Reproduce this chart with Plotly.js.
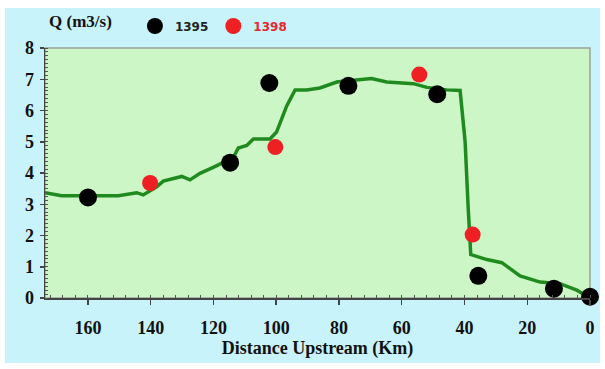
<!DOCTYPE html>
<html>
<head>
<meta charset="utf-8">
<script src="https://cdn.plot.ly/plotly-3.0.1.min.js"></script>
<style>
  html, body { margin: 0; padding: 0; background: #ffffff; }
  #frame { position: absolute; left: 5px; top: 8px; width: 595px; height: 355px; background: #c9f3fb; }
  #chart { position: absolute; left: 0; top: 0; width: 605px; height: 369px; }
</style>
</head>
<body>
<div id="frame"></div>
<div id="chart"></div>
<script>
// Discharge profile along the river (distance upstream in km, Q in m3/s)
const profileKm = [173.7, 168.4, 150.3, 144.5, 142.4, 138.1, 136.0, 130.1, 127.5, 124.3, 120.1,
  113.7, 112.1, 109.4, 107.3, 102.0, 99.9, 96.7, 94.0, 90.3, 86.1, 80.7, 75.4, 69.6, 64.8,
  56.3, 52.0, 45.7, 41.4, 39.8, 38.8, 38.0, 32.9, 28.1, 22.3, 15.9, 9.6, 4.2, 0];
const profileQ = [3.37, 3.27, 3.27, 3.37, 3.30, 3.56, 3.74, 3.89, 3.78, 3.99, 4.18,
  4.49, 4.80, 4.88, 5.09, 5.09, 5.31, 6.14, 6.66, 6.66, 6.72, 6.91, 6.97, 7.02, 6.91,
  6.86, 6.74, 6.66, 6.64, 5.00, 2.83, 1.39, 1.23, 1.13, 0.71, 0.51, 0.46, 0.25, 0.0];

// Measured discharge, 1395
const km1395 = [160, 114.7, 102.2, 77.0, 48.7, 35.6, 11.5, 0];
const q1395 = [3.22, 4.33, 6.88, 6.79, 6.52, 0.71, 0.30, 0.04];

// Measured discharge, 1398
const km1398 = [140.2, 100.3, 54.4, 37.4];
const q1398 = [3.68, 4.83, 7.15, 2.03];

const xTicks = [160, 140, 120, 100, 80, 60, 40, 20, 0];
const yTicks = [0, 1, 2, 3, 4, 5, 6, 7, 8];

const serif = 'Liberation Serif, Times New Roman, serif';

const traces = [
  {
    x: profileKm, y: profileQ, type: 'scatter', mode: 'lines',
    line: { color: '#1f8b1f', width: 3.5 },
    showlegend: false, hoverinfo: 'skip'
  },
  {
    x: km1395, y: q1395, type: 'scatter', mode: 'markers', name: '1395',
    marker: { color: '#000000', size: 18 }, cliponaxis: false
  },
  {
    x: km1398, y: q1398, type: 'scatter', mode: 'markers',
    name: '<span style="color:#e8262d">1398</span>',
    marker: { color: '#ee2024', size: 16 }, cliponaxis: false
  }
];

const layout = {
  width: 605, height: 369,
  margin: { l: 45, r: 15, t: 40, b: 71 },
  paper_bgcolor: 'rgba(0,0,0,0)',
  plot_bgcolor: '#cdf6c6',
  showlegend: true,
  legend: {
    orientation: 'h', x: 0.165, y: 1.03, xanchor: 'left', yanchor: 'bottom',
    bgcolor: 'rgba(0,0,0,0)', itemwidth: 30, tracegroupgap: 0,
    font: { family: 'DejaVu Sans, sans-serif', size: 12, color: '#222222', weight: 'bold' },
    itemsizing: 'trace'
  },
  xaxis: {
    range: [173.7, 0], tickvals: xTicks, ticktext: xTicks.map(String),
    showgrid: false, zeroline: false,
    showline: true, linecolor: '#444444', linewidth: 1.5,
    ticks: 'outside', ticklen: 5, tickcolor: '#444444', tickwidth: 1.5,
    minor: { dtick: 4, ticks: 'inside', ticklen: 3, tickcolor: '#555555', tickwidth: 1 },
    ticklabelstandoff: 8,
    tickfont: { family: serif, size: 18, color: '#111111', weight: 'bold' },
    title: { text: 'Distance Upstream (Km)', standoff: 4,
      font: { family: serif, size: 18, color: '#111111', weight: 'bold' } }
  },
  yaxis: {
    range: [0, 8], tickvals: yTicks, ticktext: yTicks.map(String),
    showgrid: false, zeroline: false,
    showline: true, linecolor: '#444444', linewidth: 1.5,
    ticks: 'outside', ticklen: 4, tickcolor: '#444444', tickwidth: 1.5,
    minor: { dtick: 0.125, ticks: 'inside', ticklen: 3, tickcolor: '#555555', tickwidth: 1 },
    ticklabelstandoff: 2,
    tickfont: { family: serif, size: 18, color: '#111111', weight: 'bold' }
  },
  shapes: [
    { type: 'rect', xref: 'paper', yref: 'paper', x0: 0, x1: 1, y0: 0, y1: 1,
      line: { color: '#9aa39a', width: 1.5 }, layer: 'below' }
  ],
  annotations: [
    { text: 'Q (m3/s)', xref: 'paper', yref: 'paper', x: 0.003, y: 1.06,
      xanchor: 'left', yanchor: 'bottom', showarrow: false,
      font: { family: serif, size: 17, color: '#111111', weight: 'bold' } }
  ]
};

Plotly.newPlot('chart', traces, layout, { displayModeBar: false, staticPlot: true });
</script>
</body>
</html>
